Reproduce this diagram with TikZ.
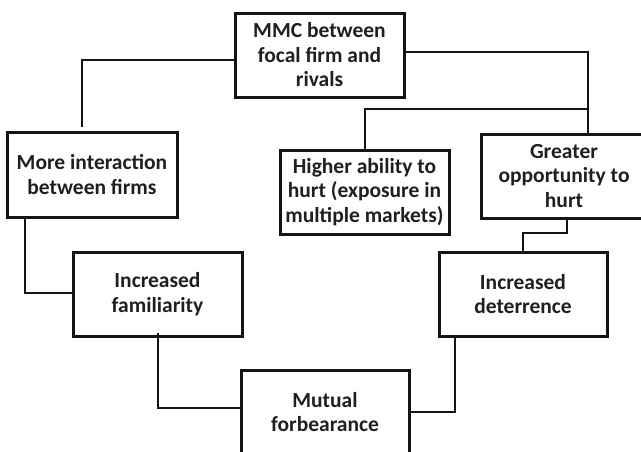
\documentclass[tikz,border=0pt]{standalone}
\usepackage{fontspec}
\setmainfont{Carlito}
\begin{document}
\begin{tikzpicture}[x=1pt,y=-1pt,
  box/.style={draw=black!92, line width=3pt, text=black!88, align=center,
    font=\bfseries\fontsize{21.5}{24.5}\selectfont, inner sep=0pt},
  link/.style={draw=black!92, line width=2.6pt}]
\useasboundingbox (0,0) rectangle (641,451);

% boxes
\node[box, minimum width=169pt, minimum height=84pt] (mmc) at (319.5,55) {MMC between\\focal firm and\\rivals};
\node[box, minimum width=170pt, minimum height=85pt] (inter) at (92,174.5) {More interaction\\between firms};
\node[box, minimum width=169pt, minimum height=84pt] (ability) at (364.5,192) {Higher ability to\\hurt (exposure in\\multiple markets)};
\node[box, minimum width=166pt, minimum height=84pt] (greater) at (564,176) {Greater\\opportunity to\\hurt};
\node[box, minimum width=169pt, minimum height=84pt] (fam) at (157.5,294) {Increased\\familiarity};
\node[box, minimum width=168pt, minimum height=84pt] (deter) at (523,294) {Increased\\deterrence};
\node[box, minimum width=168pt, minimum height=84pt] (mutual) at (325,412) {Mutual\\forbearance};

% free end above the interaction box and branch point
\coordinate (interTop) at (82,127);
\coordinate (branch) at (588,109);

% connectors
\draw[link] (mmc.west |- 0,60) -| (interTop);
\draw[link] (mmc.east |- 0,52) -| (greater.north -| branch);
\draw[link] (branch) -| (ability.north -| 365,0);
\draw[link] (inter.south -| 25,0) |- (fam.west |- 0,293);
\draw[link] (greater.south -| 567,0) -- (567,233) -| (deter.north -| 523,0);
\draw[link] (158,333) |- (mutual.west |- 0,408);
\draw[link] (deter.south -| 455,0) |- (mutual.east |- 0,412);
\end{tikzpicture}
\end{document}
